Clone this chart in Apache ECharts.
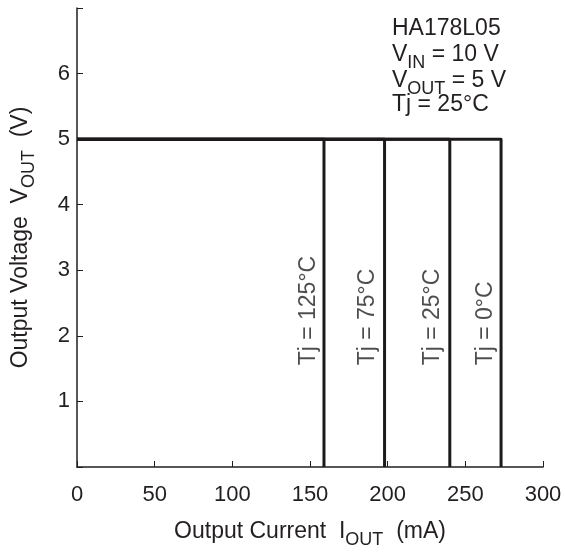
<!DOCTYPE html>
<html>
<head>
<meta charset="utf-8">
<script src="https://cdn.jsdelivr.net/npm/echarts@6/dist/echarts.min.js"></script>
<style>
  html, body { margin: 0; padding: 0; background: #fff; }
  #chart { width: 565px; height: 554px; }
</style>
</head>
<body>
<div id="chart"></div>
<script>
// Output current limit vs junction temperature
const xTicks = [0, 50, 100, 150, 200, 250, 300];
const yTicks = [1, 2, 3, 4, 5, 6];
const outputVoltage = 5;            // V, regulated output before current limit
const tempLabels = ['Tj = 125°C', 'Tj = 75°C', 'Tj = 25°C', 'Tj = 0°C'];
const limitCurrents = [159, 198, 240, 273];     // mA, where VOUT collapses
const labelCurrents = [149, 187, 229, 263];     // mA, x position of each rotated label
const labelVoltage = 1.55;                       // V, where each rotated label starts
const noteLines = [
  '{a|HA178L05}',
  '{a|V}{s|IN}{a| = 10 V}',
  '{a|V}{s|OUT}{a| = 5 V}',
  '{a|Tj = 25°C}'
];

const FONT = '"Liberation Sans", Arial, Helvetica, sans-serif';
const INK = '#231f20';
const FS = 23;

// main text + lowered subscript
function richStyle(colorKey) {
  return {
    a: { fontFamily: FONT, fontSize: FS, [colorKey]: INK, lineHeight: 26, verticalAlign: 'top' },
    s: { fontFamily: FONT, fontSize: 18, [colorKey]: INK, lineHeight: 20, padding: [11, 0, 0, 0], verticalAlign: 'top' }
  };
}

const curveSeries = limitCurrents.map((c, i) => ({
  name: tempLabels[i],
  type: 'line',
  data: [[0, outputVoltage], [c, outputVoltage], [c, 0]],
  showSymbol: false,
  symbol: 'none',
  lineStyle: { color: '#1c1a1b', width: 3, join: 'round' },
  silent: true,
  z: 3
}));

const labelSeries = {
  type: 'scatter',
  symbolSize: 0,
  silent: true,
  data: labelCurrents.map((c, i) => ({ value: [c, labelVoltage], name: tempLabels[i] })),
  label: {
    show: true,
    formatter: p => p.name,
    rotate: 90,
    align: 'left',
    verticalAlign: 'middle',
    position: [0, 0],
    fontFamily: FONT,
    fontSize: FS,
    color: INK
  },
  z: 4
};

const noteTops = [17, 43, 69, 93];

const chart = echarts.init(document.getElementById('chart'), null, { renderer: 'canvas' });
chart.setOption({
  animation: false,
  backgroundColor: '#fff',
  grid: { left: 77, right: 22, top: 8, bottom: 84, containLabel: false },
  xAxis: {
    type: 'value',
    min: 0, max: 300, interval: 50,
    axisLine: { show: true, lineStyle: { color: INK, width: 1.5 } },
    axisTick: { show: true, inside: true, length: 6, lineStyle: { color: INK, width: 1 } },
    axisLabel: { margin: 17, fontFamily: FONT, fontSize: 22, color: INK,
                 formatter: v => xTicks.includes(v) ? String(v) : '' },
    splitLine: { show: false },
    name: '{a|Output Current  I}{s|OUT}{a|  (mA)}',
    nameLocation: 'middle',
    nameGap: 53,
    nameTextStyle: { rich: richStyle('color') }
  },
  yAxis: {
    type: 'value',
    min: 0, max: 7, interval: 1,
    axisLine: { show: true, lineStyle: { color: INK, width: 1.5 } },
    axisTick: { show: true, inside: true, length: 6, lineStyle: { color: INK, width: 1 } },
    axisLabel: { margin: 7, fontFamily: FONT, fontSize: 22, color: INK,
                 formatter: v => yTicks.includes(v) ? String(v) : '' },
    splitLine: { show: false },
    name: '{a|Output Voltage  V}{s|OUT}{a|  (V)}',
    nameLocation: 'middle',
    nameGap: 42,
    nameRotate: 90,
    nameTextStyle: { rich: richStyle('color') }
  },
  graphic: noteLines.map((t, i) => ({
    type: 'text',
    left: 392,
    top: noteTops[i],
    style: { text: t, rich: richStyle('fill') }
  })),
  series: [...curveSeries, labelSeries]
});
</script>
</body>
</html>
